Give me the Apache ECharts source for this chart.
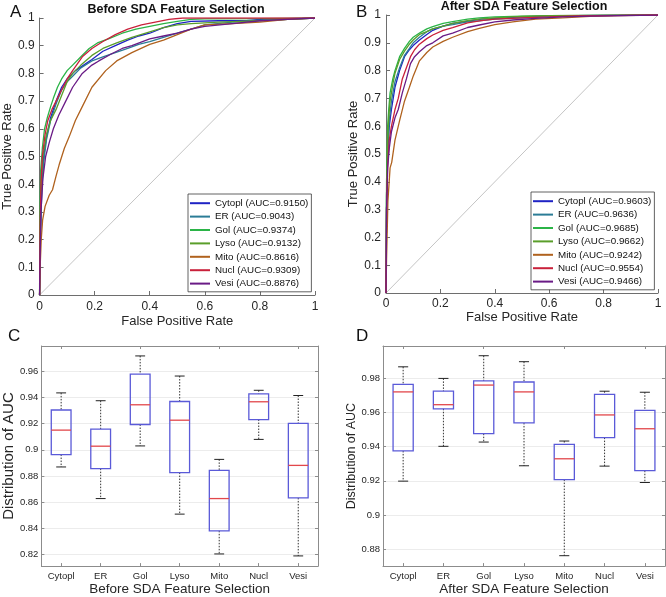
<!DOCTYPE html>
<html>
<head>
<meta charset="utf-8">
<script src="https://cdn.jsdelivr.net/npm/echarts@6/dist/echarts.min.js"></script>
<style>
  html, body { margin: 0; padding: 0; background: #fff; }
  #chart { width: 666px; height: 597px; }
</style>
</head>
<body>
<div id="chart"></div>
<script>
const FONT = '"Liberation Sans", Arial, sans-serif'

const classes = ['Cytopl', 'ER', 'Gol', 'Lyso', 'Mito', 'Nucl', 'Vesi']
const colors = ['#1f23c4', '#2b7c96', '#2bb447', '#5a9e2a', '#b0621e', '#c9213b', '#6a1b86']
const aucBefore = ['0.9150', '0.9043', '0.9374', '0.9132', '0.8616', '0.9309', '0.8876']
const aucAfter = ['0.9603', '0.9636', '0.9685', '0.9662', '0.9242', '0.9554', '0.9466']

// ROC curves before SDA feature selection, [fpr, tpr]
const rocBeforeCytopl = [[0,0],[0.003,0.2],[0.008,0.4],[0.015,0.5],[0.025,0.57],[0.04,0.64],[0.06,0.7],[0.08,0.75],[0.1,0.78],[0.13,0.81],[0.16,0.83],[0.19,0.85],[0.23,0.88],[0.275,0.9],[0.32,0.92],[0.36,0.935],[0.4,0.945],[0.45,0.965],[0.5,0.98],[0.55,0.988],[0.65,0.99],[0.75,0.99],[0.8,0.995],[1,1]]
const rocBeforeER = [[0,0],[0.003,0.2],[0.008,0.38],[0.015,0.48],[0.025,0.56],[0.04,0.63],[0.06,0.69],[0.08,0.74],[0.1,0.77],[0.12,0.79],[0.15,0.82],[0.19,0.845],[0.23,0.86],[0.275,0.875],[0.32,0.89],[0.36,0.905],[0.4,0.915],[0.45,0.93],[0.5,0.945],[0.55,0.96],[0.6,0.975],[0.7,0.985],[0.78,0.99],[0.9,0.995],[1,1]]
const rocBeforeGol = [[0,0],[0.001,0.3],[0.004,0.45],[0.01,0.53],[0.018,0.6],[0.028,0.64],[0.04,0.68],[0.05,0.71],[0.065,0.75],[0.08,0.78],[0.1,0.81],[0.12,0.83],[0.15,0.86],[0.18,0.89],[0.21,0.91],[0.25,0.925],[0.3,0.945],[0.35,0.96],[0.4,0.97],[0.45,0.98],[0.5,0.988],[0.55,0.995],[0.6,0.997],[0.8,0.998],[1,1]]
const rocBeforeLyso = [[0,0],[0.002,0.25],[0.006,0.4],[0.012,0.5],[0.025,0.58],[0.04,0.63],[0.06,0.67],[0.08,0.72],[0.1,0.77],[0.12,0.8],[0.15,0.83],[0.19,0.865],[0.23,0.89],[0.28,0.91],[0.335,0.93],[0.4,0.95],[0.45,0.965],[0.5,0.975],[0.55,0.98],[0.65,0.985],[0.8,0.99],[0.9,0.995],[1,1]]
const rocBeforeMito = [[0,0],[0.002,0.1],[0.006,0.2],[0.011,0.27],[0.02,0.32],[0.035,0.36],[0.047,0.38],[0.06,0.43],[0.071,0.47],[0.09,0.53],[0.107,0.57],[0.13,0.63],[0.155,0.68],[0.19,0.75],[0.24,0.81],[0.28,0.845],[0.335,0.875],[0.4,0.905],[0.45,0.92],[0.5,0.94],[0.55,0.96],[0.6,0.975],[0.7,0.98],[0.8,0.985],[0.9,0.995],[1,1]]
const rocBeforeNucl = [[0,0],[0.002,0.25],[0.005,0.4],[0.01,0.5],[0.02,0.58],[0.03,0.63],[0.045,0.67],[0.06,0.7],[0.08,0.74],[0.1,0.78],[0.12,0.81],[0.155,0.86],[0.19,0.89],[0.23,0.915],[0.275,0.94],[0.32,0.96],[0.37,0.975],[0.42,0.985],[0.47,0.995],[0.52,1],[1,1]]
const rocBeforeVesi = [[0,0],[0.002,0.15],[0.005,0.3],[0.012,0.42],[0.022,0.5],[0.035,0.55],[0.05,0.6],[0.07,0.65],[0.095,0.7],[0.12,0.75],[0.155,0.8],[0.19,0.83],[0.215,0.845],[0.26,0.87],[0.3,0.89],[0.335,0.9],[0.4,0.925],[0.45,0.935],[0.5,0.945],[0.55,0.96],[0.6,0.97],[0.7,0.98],[0.8,0.99],[0.9,0.995],[1,1]]

// ROC curves after SDA feature selection
const rocAfterCytopl = [[0,0],[0.002,0.3],[0.006,0.5],[0.012,0.6],[0.02,0.66],[0.033,0.74],[0.05,0.8],[0.068,0.85],[0.086,0.875],[0.1,0.89],[0.123,0.91],[0.15,0.93],[0.172,0.945],[0.21,0.96],[0.245,0.97],[0.3,0.978],[0.35,0.985],[0.4,0.988],[0.5,0.993],[0.6,0.996],[0.7,0.998],[1,1]]
const rocAfterER = [[0,0],[0.002,0.35],[0.006,0.52],[0.012,0.62],[0.02,0.69],[0.033,0.76],[0.05,0.81],[0.068,0.855],[0.086,0.88],[0.1,0.9],[0.123,0.92],[0.15,0.94],[0.172,0.95],[0.21,0.96],[0.245,0.965],[0.3,0.975],[0.35,0.98],[0.4,0.985],[0.5,0.99],[0.6,0.995],[0.7,0.998],[1,1]]
const rocAfterGol = [[0,0],[0.002,0.4],[0.006,0.6],[0.01,0.66],[0.015,0.72],[0.025,0.77],[0.033,0.8],[0.05,0.85],[0.068,0.88],[0.086,0.905],[0.1,0.92],[0.123,0.935],[0.15,0.95],[0.172,0.958],[0.21,0.97],[0.245,0.976],[0.3,0.985],[0.343,0.99],[0.4,0.993],[0.5,0.996],[0.6,0.998],[1,1]]
const rocAfterLyso = [[0,0],[0.002,0.35],[0.006,0.55],[0.01,0.63],[0.015,0.69],[0.025,0.75],[0.033,0.79],[0.05,0.84],[0.068,0.87],[0.086,0.895],[0.1,0.91],[0.123,0.93],[0.15,0.94],[0.172,0.95],[0.21,0.96],[0.245,0.97],[0.3,0.98],[0.343,0.985],[0.4,0.99],[0.5,0.995],[0.6,0.998],[1,1]]
const rocAfterMito = [[0,0],[0.002,0.12],[0.004,0.2],[0.007,0.33],[0.015,0.45],[0.021,0.47],[0.033,0.55],[0.05,0.62],[0.068,0.69],[0.086,0.74],[0.1,0.78],[0.123,0.835],[0.15,0.865],[0.172,0.885],[0.21,0.905],[0.245,0.92],[0.3,0.94],[0.343,0.952],[0.4,0.965],[0.466,0.975],[0.55,0.985],[0.65,0.99],[0.75,0.995],[0.85,0.998],[1,1]]
const rocAfterNucl = [[0,0],[0.002,0.3],[0.006,0.45],[0.012,0.55],[0.02,0.6],[0.033,0.66],[0.045,0.7],[0.06,0.77],[0.075,0.81],[0.09,0.85],[0.105,0.875],[0.123,0.895],[0.15,0.915],[0.172,0.928],[0.21,0.945],[0.245,0.955],[0.3,0.972],[0.35,0.98],[0.4,0.985],[0.5,0.99],[0.6,0.993],[0.7,0.997],[1,1]]
const rocAfterVesi = [[0,0],[0.002,0.3],[0.006,0.45],[0.012,0.52],[0.02,0.58],[0.033,0.63],[0.045,0.66],[0.06,0.72],[0.075,0.77],[0.09,0.825],[0.105,0.85],[0.123,0.868],[0.15,0.89],[0.172,0.9],[0.21,0.925],[0.245,0.935],[0.3,0.955],[0.343,0.964],[0.4,0.975],[0.466,0.982],[0.55,0.988],[0.65,0.993],[0.75,0.996],[1,1]]

const rocBefore = [rocBeforeCytopl, rocBeforeER, rocBeforeGol, rocBeforeLyso, rocBeforeMito, rocBeforeNucl, rocBeforeVesi]
const rocAfter = [rocAfterCytopl, rocAfterER, rocAfterGol, rocAfterLyso, rocAfterMito, rocAfterNucl, rocAfterVesi]
const diagonal = [[0, 0], [1, 1]]

// AUC distributions (whisker low, Q1, median, Q3, whisker high)
const beforeLow = [0.8869, 0.8627, 0.9030, 0.8508, 0.8203, 0.9080, 0.8188]
const beforeQ1 = [0.8964, 0.8856, 0.9194, 0.8826, 0.8380, 0.9232, 0.8632]
const beforeMed = [0.9151, 0.9028, 0.9345, 0.9227, 0.8627, 0.9368, 0.8881]
const beforeQ3 = [0.9305, 0.9159, 0.9580, 0.9370, 0.8843, 0.9429, 0.9202]
const beforeHigh = [0.9436, 0.9376, 0.9719, 0.9565, 0.8927, 0.9456, 0.9416]

const afterLow = [0.9198, 0.9402, 0.9427, 0.9288, 0.8761, 0.9286, 0.9190]
const afterQ1 = [0.9375, 0.9622, 0.9476, 0.9539, 0.9207, 0.9453, 0.9259]
const afterMed = [0.9721, 0.9646, 0.9761, 0.9721, 0.9329, 0.9586, 0.9505]
const afterQ3 = [0.9765, 0.9725, 0.9786, 0.9779, 0.9414, 0.9707, 0.9613]
const afterHigh = [0.9868, 0.9800, 0.9933, 0.9898, 0.9433, 0.9725, 0.9719]

// tick values of the two box-plot y axes
const ticksBefore = [0.82, 0.84, 0.86, 0.88, 0.9, 0.92, 0.94, 0.96]
const ticksAfter = [0.88, 0.9, 0.92, 0.94, 0.96, 0.98]

const namesBefore = classes.map((c, i) => c + ' (AUC=' + aucBefore[i] + ')')
const namesAfter = classes.map((c, i) => c + ' (AUC=' + aucAfter[i] + ')')

function boxRows (lo, q1, med, q3, hi) {
  return classes.map((c, i) => [i, lo[i], q1[i], med[i], q3[i], hi[i]])
}

function renderBox (params, api) {
  const i = api.value(0)
  const pLo = api.coord([i, api.value(1)])
  const pQ1 = api.coord([i, api.value(2)])
  const pMed = api.coord([i, api.value(3)])
  const pQ3 = api.coord([i, api.value(4)])
  const pHi = api.coord([i, api.value(5)])
  const band = api.size([1, 0])[0]
  const half = band * 0.25
  const cap = half * 0.5
  const x = pMed[0]
  const dash = { stroke: '#333', lineWidth: 1, lineDash: [1.5, 1.5] }
  const solid = { stroke: '#222', lineWidth: 1 }
  return {
    type: 'group',
    children: [
      { type: 'line', shape: { x1: x, y1: pHi[1], x2: x, y2: pQ3[1] }, style: dash },
      { type: 'line', shape: { x1: x, y1: pQ1[1], x2: x, y2: pLo[1] }, style: dash },
      { type: 'line', shape: { x1: x - cap, y1: pHi[1], x2: x + cap, y2: pHi[1] }, style: solid },
      { type: 'line', shape: { x1: x - cap, y1: pLo[1], x2: x + cap, y2: pLo[1] }, style: solid },
      { type: 'rect', shape: { x: x - half, y: pQ3[1], width: half * 2, height: pQ1[1] - pQ3[1] }, style: { fill: 'none', stroke: '#5a5ad8', lineWidth: 1.3 } },
      { type: 'line', shape: { x1: x - half, y1: pMed[1], x2: x + half, y2: pMed[1] }, style: { stroke: '#e2474b', lineWidth: 1.3 } }
    ]
  }
}

const rocAxisLine = { show: true, lineStyle: { color: '#6e6e6e', width: 1 } }
const rocTick = { show: true, inside: true, length: 4, lineStyle: { color: '#6e6e6e' } }
const rocLabel = { color: '#262626', fontSize: 12, fontFamily: FONT }

function rocX (grid, gap, margin) {
  return {
    type: 'value', gridIndex: grid, min: 0, max: 1, interval: 0.2,
    axisLine: rocAxisLine, axisTick: rocTick, splitLine: { show: false },
    axisLabel: Object.assign({ margin: margin }, rocLabel),
    name: 'False Positive Rate', nameLocation: 'middle', nameGap: gap,
    nameTextStyle: { color: '#262626', fontSize: 13, fontFamily: FONT }
  }
}
function rocY (grid, gap) {
  return {
    type: 'value', gridIndex: grid, min: 0, max: 1, interval: 0.1,
    axisLine: rocAxisLine, axisTick: rocTick, splitLine: { show: false },
    axisLabel: Object.assign({ margin: 5 }, rocLabel),
    name: 'True Positive Rate', nameLocation: 'middle', nameGap: gap,
    nameTextStyle: { color: '#262626', fontSize: 13, fontFamily: FONT }
  }
}

const frameLine = { show: true, lineStyle: { color: '#8c8c8c', width: 1 } }
const frameTick = { show: true, inside: true, length: 3, lineStyle: { color: '#8c8c8c' } }

function boxX (grid, title) {
  return {
    type: 'category', gridIndex: grid, data: classes, boundaryGap: true,
    axisLine: frameLine, axisTick: Object.assign({ alignWithLabel: true }, frameTick),
    axisLabel: { color: '#262626', fontSize: 9.5, fontFamily: FONT, margin: 5 },
    name: title, nameLocation: 'middle', nameGap: 15,
    nameTextStyle: { color: '#262626', fontSize: 13.5, fontFamily: FONT }
  }
}
function boxXTop (grid) {
  return {
    type: 'category', gridIndex: grid, data: classes, position: 'top', boundaryGap: true,
    axisLine: frameLine, axisTick: Object.assign({ alignWithLabel: true }, frameTick),
    axisLabel: { show: false }
  }
}
function boxY (grid, min, max, ticks, gap, size) {
  return {
    type: 'value', gridIndex: grid, min: min, max: max,
    axisLine: frameLine,
    axisTick: Object.assign({ customValues: ticks }, frameTick),
    splitLine: { show: true, lineStyle: { color: '#ececec', width: 1 } },
    axisLabel: { customValues: ticks, color: '#262626', fontSize: 9.5, fontFamily: FONT, margin: 3 },
    name: 'Distribution of AUC', nameLocation: 'middle', nameGap: gap,
    nameTextStyle: { color: '#262626', fontSize: size, fontFamily: FONT }
  }
}
function boxYRight (grid, min, max, ticks) {
  return {
    type: 'value', gridIndex: grid, min: min, max: max, position: 'right',
    axisLine: frameLine,
    axisTick: Object.assign({ customValues: ticks }, frameTick),
    splitLine: { show: false },
    axisLabel: { show: false, customValues: ticks }
  }
}

const series = []
rocBefore.forEach((d, i) => {
  series.push({ type: 'line', name: namesBefore[i], xAxisIndex: 0, yAxisIndex: 0, data: d, showSymbol: false, symbol: 'none', lineStyle: { width: 1.3, color: colors[i] }, itemStyle: { color: colors[i] }, z: 3 })
})
rocAfter.forEach((d, i) => {
  series.push({ type: 'line', name: namesAfter[i], xAxisIndex: 1, yAxisIndex: 1, data: d, showSymbol: false, symbol: 'none', lineStyle: { width: 1.3, color: colors[i] }, itemStyle: { color: colors[i] }, z: 3 })
})
series.push({ type: 'line', xAxisIndex: 0, yAxisIndex: 0, data: diagonal, symbol: 'none', lineStyle: { width: 1, color: '#c4c4c4' }, z: 2 })
series.push({ type: 'line', xAxisIndex: 1, yAxisIndex: 1, data: diagonal, symbol: 'none', lineStyle: { width: 1, color: '#c4c4c4' }, z: 2 })
series.push({ type: 'custom', xAxisIndex: 2, yAxisIndex: 2, renderItem: renderBox, encode: { x: 0, y: [1, 2, 3, 4, 5] }, data: boxRows(beforeLow, beforeQ1, beforeMed, beforeQ3, beforeHigh) })
series.push({ type: 'custom', xAxisIndex: 4, yAxisIndex: 4, renderItem: renderBox, encode: { x: 0, y: [1, 2, 3, 4, 5] }, data: boxRows(afterLow, afterQ1, afterMed, afterQ3, afterHigh) })

const legendBase = {
  orient: 'vertical', icon: 'rect', itemWidth: 20, itemHeight: 2, itemGap: 1,
  padding: [3, 3, 2, 2], borderColor: '#3a3a3a', borderWidth: 0.8, backgroundColor: '#fff',
  selectedMode: false,
  textStyle: { color: '#111', fontSize: 9.8, lineHeight: 12.4, fontFamily: FONT }
}

const option = {
  animation: false,
  backgroundColor: '#fff',
  textStyle: { fontFamily: FONT },
  title: [
    { text: 'Before SDA Feature Selection', left: 176, top: 3, textAlign: 'center', padding: 0, textStyle: { fontSize: 12.5, fontWeight: 'bold', color: '#111', fontFamily: FONT } },
    { text: 'After SDA Feature Selection', left: 524, top: 0, textAlign: 'center', padding: 0, textStyle: { fontSize: 12.5, fontWeight: 'bold', color: '#111', fontFamily: FONT } }
  ],
  legend: [
    Object.assign({ data: namesBefore, left: 188, top: 194 }, legendBase),
    Object.assign({ data: namesAfter, left: 531, top: 192 }, legendBase)
  ],
  graphic: [
    { type: 'text', left: 10, top: 4, style: { text: 'A', fontSize: 17, fill: '#111', fontFamily: FONT } },
    { type: 'text', left: 356, top: 4, style: { text: 'B', fontSize: 17, fill: '#111', fontFamily: FONT } },
    { type: 'text', left: 8, top: 328, style: { text: 'C', fontSize: 17, fill: '#111', fontFamily: FONT } },
    { type: 'text', left: 356, top: 328, style: { text: 'D', fontSize: 17, fill: '#111', fontFamily: FONT } }
  ],
  grid: [
    { left: 37, top: 18, width: 278, height: 277 },
    { left: 386, top: 15, width: 272, height: 278 },
    { left: 36, top: 346, width: 282, height: 223 },
    { left: 383, top: 346, width: 282, height: 223 }
  ],
  xAxis: [
    rocX(0, 20, 6),
    rocX(1, 18, 5),
    boxX(2, 'Before SDA Feature Selection'),
    boxXTop(2),
    boxX(3, 'After SDA Feature Selection'),
    boxXTop(3)
  ],
  yAxis: [
    rocY(0, 20),
    rocY(1, 20),
    boxY(2, 0.811, 0.9795, ticksBefore, 20, 15),
    boxYRight(2, 0.811, 0.9795, ticksBefore),
    boxY(3, 0.870, 0.999, ticksAfter, 22, 12.5),
    boxYRight(3, 0.870, 0.999, ticksAfter)
  ],
  series: series
}

const chart = echarts.init(document.getElementById('chart'), null, { renderer: 'canvas' })
chart.setOption(option)
</script>
</body>
</html>
